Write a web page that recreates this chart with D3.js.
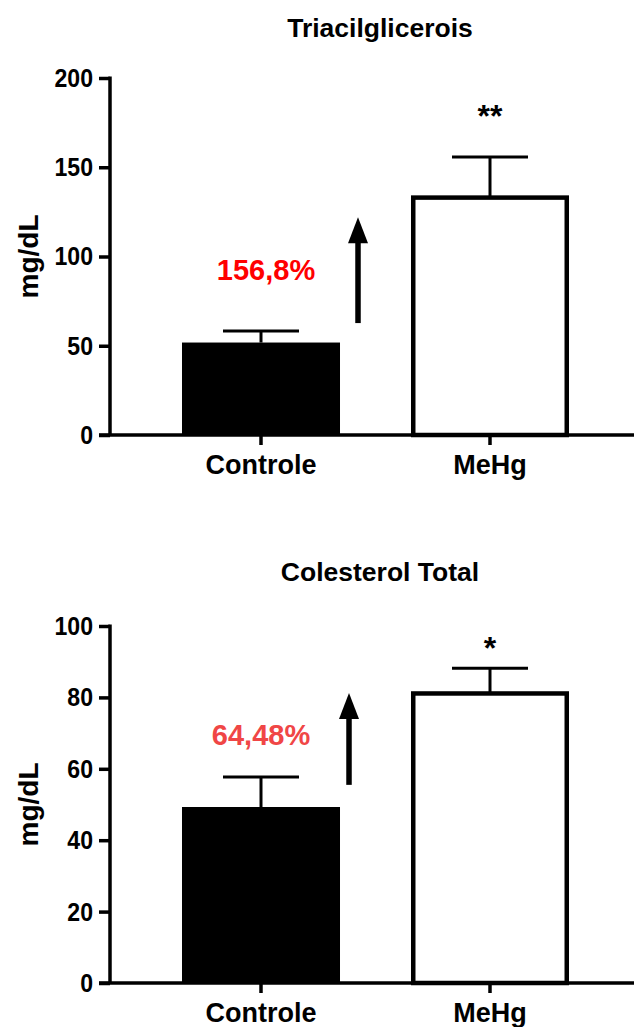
<!DOCTYPE html>
<html>
<head>
<meta charset="utf-8">
<script src="https://cdn.jsdelivr.net/npm/d3@7"></script>
<style>
  html, body { margin: 0; padding: 0; background: #ffffff; }
  svg { display: block; }
  text { font-family: "Liberation Sans", Arial, Helvetica, sans-serif; font-weight: bold; }
</style>
</head>
<body>
<script>
// Groups shown on the x axis
const categories = ["Controle", "MeHg"];

// Triacilglicerois (mg/dL): mean and SEM per group
const tgMeans = [51.8, 133.0];
const tgSem = [6.5, 22.7];
const tgTicks = [0, 50, 100, 150, 200];
const tgChange = "156,8%";
const tgStars = "**";

// Colesterol total (mg/dL): mean and SEM per group
const colMeans = [49.3, 81.1];
const colSem = [8.4, 7.1];
const colTicks = [0, 20, 40, 60, 80, 100];
const colChange = "64,48%";
const colStars = "*";

const W = 634, H = 1027;
const svg = d3.select("body").append("svg").attr("width", W).attr("height", H);

// slightly condensed tick numerals
const TICK_SX = 0.87;

function panel(opts) {
  const g = svg.append("g");
  const y = d3.scaleLinear().domain([0, opts.ticks[opts.ticks.length - 1]]).range([opts.y0, opts.y1]);
  const x = d3.scaleBand().domain(categories).range([146.5, 604.5]).paddingInner(0.31).paddingOuter(0.155);
  const axisX = 110;

  // title
  g.append("text").attr("x", 380).attr("y", opts.titleY).attr("text-anchor", "middle")
    .attr("font-size", 26.5).text(opts.title);

  // y axis title
  g.append("text")
    .attr("transform", `translate(38,${(opts.y0 + opts.y1) / 2}) rotate(-90)`)
    .attr("text-anchor", "middle").attr("font-size", 28).text("mg/dL");

  // bars
  const data = categories.map((c, i) => ({ c, m: opts.means[i], s: opts.sem[i] }));
  g.selectAll("rect.bar").data(data).join("rect").attr("class", "bar")
    .attr("x", d => x(d.c) + (d.c === "MeHg" ? 2.25 : 0))
    .attr("width", d => x.bandwidth() - (d.c === "MeHg" ? 4.5 : 0))
    .attr("y", d => y(d.m))
    .attr("height", d => y(0) - y(d.m))
    .attr("fill", d => d.c === "MeHg" ? "#ffffff" : "#000000")
    .attr("stroke", "#000000")
    .attr("stroke-width", d => d.c === "MeHg" ? 4.5 : 0);

  // error bars (upper only)
  const eb = g.selectAll("g.err").data(data).join("g").attr("class", "err");
  eb.append("line")
    .attr("x1", d => x(d.c) + x.bandwidth() / 2).attr("x2", d => x(d.c) + x.bandwidth() / 2)
    .attr("y1", d => y(d.m)).attr("y2", d => y(d.m + d.s))
    .attr("stroke", "#000").attr("stroke-width", 3);
  eb.append("line")
    .attr("x1", d => x(d.c) + x.bandwidth() / 2 - 38).attr("x2", d => x(d.c) + x.bandwidth() / 2 + 38)
    .attr("y1", d => y(d.m + d.s)).attr("y2", d => y(d.m + d.s))
    .attr("stroke", "#000").attr("stroke-width", 3);

  // y axis
  const ya = g.append("g").attr("transform", `translate(${axisX},0)`)
    .call(d3.axisLeft(y).tickValues(opts.ticks).tickSize(11).tickPadding(6));
  ya.select(".domain").attr("d", `M0,${y(0)}V${opts.y1 - 1.5}`).attr("stroke", "#000").attr("stroke-width", 3.5);
  ya.selectAll(".tick line").attr("stroke", "#000").attr("stroke-width", 3.5);
  ya.selectAll(".tick text").attr("font-size", 26.5).attr("fill", "#000")
    .attr("font-family", '"Liberation Sans", Arial, sans-serif').attr("font-weight", "bold")
    .attr("x", -17 / TICK_SX).attr("transform", `scale(${TICK_SX},1)`);

  // x axis
  const xa = g.append("g").attr("transform", `translate(0,${y(0)})`)
    .call(d3.axisBottom(x).tickSize(10).tickPadding(10));
  xa.select(".domain").attr("d", `M99,0H${W}`).attr("stroke", "#000").attr("stroke-width", 3.5);
  xa.selectAll(".tick line").attr("stroke", "#000").attr("stroke-width", 3.5);
  xa.selectAll(".tick text").attr("font-size", 27).attr("fill", "#000")
    .attr("font-family", '"Liberation Sans", Arial, sans-serif').attr("font-weight", "bold");

  // significance marks above the MeHg bar
  const mx = x("MeHg") + x.bandwidth() / 2;
  g.append("text").attr("x", mx).attr("y", opts.starsY).attr("text-anchor", "middle")
    .attr("font-size", 32).text(opts.stars);

  // percent increase label and arrow
  g.append("text").attr("x", opts.pctX).attr("y", y(opts.pctAt)).attr("text-anchor", "middle")
    .attr("font-size", 29).attr("fill", opts.pctColor).text(opts.change);

  const ax = x("Controle") + x.bandwidth() + opts.arrowDx;
  const tip = y(opts.arrowTop), base = y(opts.arrowBottom);
  g.append("line").attr("x1", ax).attr("x2", ax).attr("y1", base).attr("y2", tip + 20)
    .attr("stroke", "#000").attr("stroke-width", 5.5);
  g.append("path").attr("d", `M${ax},${tip}L${ax - 10},${tip + 26}L${ax + 10},${tip + 26}Z`).attr("fill", "#000");
}

panel({
  title: "Triacilglicerois", titleY: 37,
  means: tgMeans, sem: tgSem, ticks: tgTicks,
  y0: 435, y1: 78,
  stars: tgStars, starsY: 127,
  change: tgChange, pctColor: "#ff0000", pctX: 266, pctAt: 86.8,
  arrowDx: 18, arrowTop: 122, arrowBottom: 62.7
});

panel({
  title: "Colesterol Total", titleY: 581,
  means: colMeans, sem: colSem, ticks: colTicks,
  y0: 983, y1: 626,
  stars: colStars, starsY: 659,
  change: colChange, pctColor: "#f04646", pctX: 261, pctAt: 66.7,
  arrowDx: 9, arrowTop: 81.2, arrowBottom: 55.5
});
</script>
</body>
</html>
